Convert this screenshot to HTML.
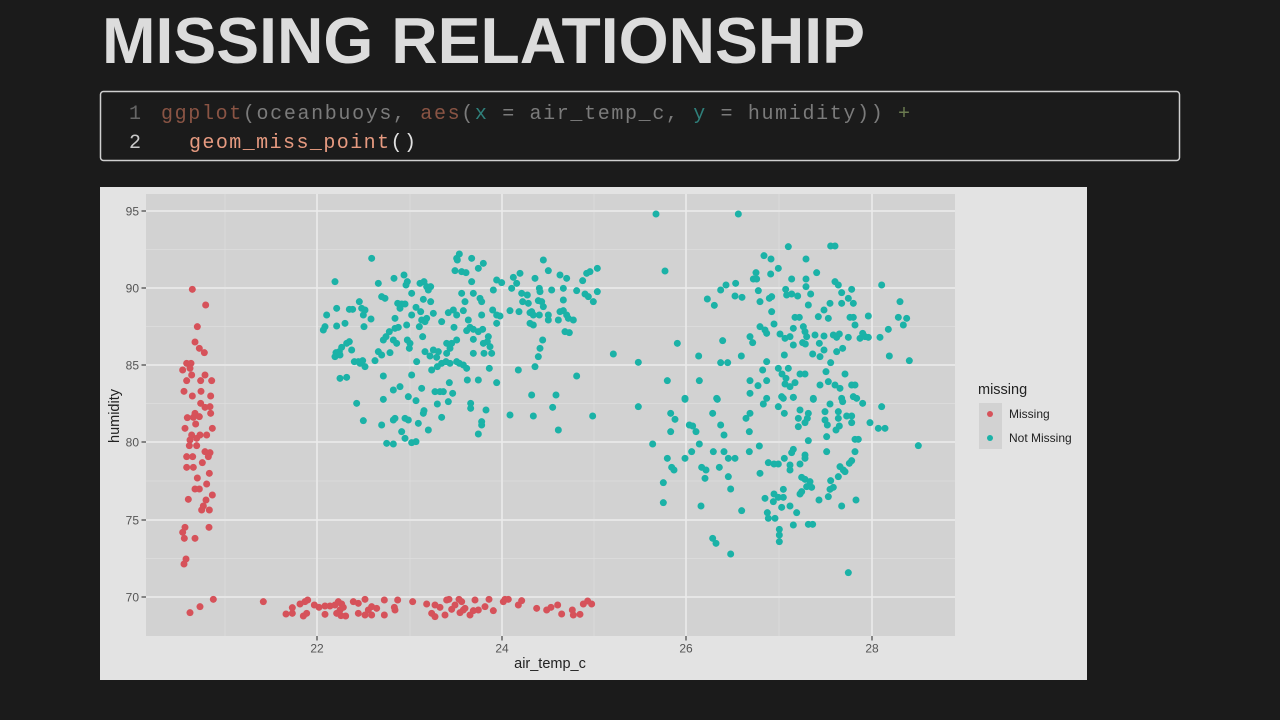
<!DOCTYPE html>
<html><head><meta charset="utf-8"><style>
html,body{margin:0;padding:0;background:#1b1b1b;}
svg{display:block;}
.t{font-family:"Liberation Sans",sans-serif;}
.m{font-family:"Liberation Mono",monospace;}
</style></head><body>
<svg width="1280" height="720" viewBox="0 0 1280 720" xmlns="http://www.w3.org/2000/svg">
<rect width="1280" height="720" fill="#1b1b1b"/>
<text class="t" x="102" y="63" font-size="65" font-weight="bold" fill="#dcdcdc" textLength="763" lengthAdjust="spacingAndGlyphs">MISSING RELATIONSHIP</text>
<rect x="100.5" y="91.5" width="1079" height="69" rx="3" fill="none" stroke="#cfcfcf" stroke-width="1.5"/>
<text class="m" x="129" y="119" font-size="20" fill="#666">1</text>
<text class="m" x="161" y="119" font-size="20" xml:space="preserve" textLength="749" lengthAdjust="spacing"><tspan fill="#8a5444">ggplot</tspan><tspan fill="#7b7b7b">(oceanbuoys, </tspan><tspan fill="#8a5444">aes</tspan><tspan fill="#7b7b7b">(</tspan><tspan fill="#2f7f7a">x</tspan><tspan fill="#7b7b7b"> = air_temp_c, </tspan><tspan fill="#2f7f7a">y</tspan><tspan fill="#7b7b7b"> = humidity)) </tspan><tspan fill="#6b7b50">+</tspan></text>
<text class="m" x="129" y="148" font-size="20" fill="#c8c8c8">2</text>
<text class="m" x="189" y="148" font-size="20" xml:space="preserve" textLength="227" lengthAdjust="spacing"><tspan fill="#e69a80">geom_miss_point</tspan><tspan fill="#e0e0e0">()</tspan></text>

<rect x="100" y="187" width="987" height="493" fill="#e3e3e3"/>
<rect x="146" y="194" width="809" height="442" fill="#d2d2d2"/>
<g stroke="#dedede" stroke-width="0.8">
<line x1="146" x2="955" y1="249.5" y2="249.5"/><line x1="146" x2="955" y1="326.5" y2="326.5"/><line x1="146" x2="955" y1="403.5" y2="403.5"/><line x1="146" x2="955" y1="481" y2="481"/><line x1="146" x2="955" y1="558.5" y2="558.5"/>
<line y1="194" y2="636" x1="225" x2="225"/><line y1="194" y2="636" x1="410" x2="410"/><line y1="194" y2="636" x1="594" x2="594"/><line y1="194" y2="636" x1="779" x2="779"/>
</g>
<g stroke="#ececec" stroke-width="1.5">
<line x1="146" x2="955" y1="211" y2="211"/><line x1="146" x2="955" y1="288" y2="288"/><line x1="146" x2="955" y1="365" y2="365"/><line x1="146" x2="955" y1="442" y2="442"/><line x1="146" x2="955" y1="520" y2="520"/><line x1="146" x2="955" y1="597" y2="597"/>
<line y1="194" y2="636" x1="317" x2="317"/><line y1="194" y2="636" x1="502" x2="502"/><line y1="194" y2="636" x1="686" x2="686"/><line y1="194" y2="636" x1="872" x2="872"/>
</g>
<g stroke="#444" stroke-width="1.2">
<line x1="141.5" x2="146" y1="211" y2="211"/><line x1="141.5" x2="146" y1="288" y2="288"/><line x1="141.5" x2="146" y1="365" y2="365"/><line x1="141.5" x2="146" y1="442" y2="442"/><line x1="141.5" x2="146" y1="520" y2="520"/><line x1="141.5" x2="146" y1="597" y2="597"/>
<line y1="636" y2="640.5" x1="317" x2="317"/><line y1="636" y2="640.5" x1="502" x2="502"/><line y1="636" y2="640.5" x1="686" x2="686"/><line y1="636" y2="640.5" x1="872" x2="872"/>
</g>
<g class="t" font-size="12" fill="#555" text-anchor="end">
<text x="139" y="215.3">95</text><text x="139" y="292.3">90</text><text x="139" y="369.3">85</text><text x="139" y="446.3">80</text><text x="139" y="524.3">75</text><text x="139" y="601.3">70</text>
</g>
<g class="t" font-size="12" fill="#555" text-anchor="middle">
<text x="317" y="652.5">22</text><text x="502" y="652.5">24</text><text x="686" y="652.5">26</text><text x="872" y="652.5">28</text>
</g>
<text class="t" x="550" y="668" font-size="14.5" fill="#222" text-anchor="middle">air_temp_c</text>
<text class="t" transform="translate(119,416) rotate(-90)" font-size="14.5" fill="#222" text-anchor="middle">humidity</text>

<text class="t" x="978" y="394" font-size="14.5" fill="#222">missing</text>
<rect x="979" y="403" width="23" height="46" fill="#d2d2d2"/>
<circle cx="990" cy="414" r="3" fill="#d6525a"/>
<circle cx="990" cy="438" r="3" fill="#1bb2a7"/>
<text class="t" x="1009" y="418.2" font-size="12" fill="#222">Missing</text>
<text class="t" x="1009" y="442.2" font-size="12" fill="#222">Not Missing</text>

<g fill="#d6525a" transform="translate(160,280) scale(0.33333)">
<circle cx="97" cy="28" r="10.5"/><circle cx="137" cy="75" r="10.5"/><circle cx="112" cy="140" r="10.5"/><circle cx="105" cy="186" r="10.5"/><circle cx="118" cy="205" r="10.5"/><circle cx="133" cy="218" r="10.5"/><circle cx="80" cy="250" r="10.5"/><circle cx="93" cy="250" r="10.5"/><circle cx="68" cy="270" r="10.5"/><circle cx="90" cy="265" r="10.5"/><circle cx="95" cy="285" r="10.5"/><circle cx="135" cy="285" r="10.5"/><circle cx="80" cy="302" r="10.5"/><circle cx="122" cy="302" r="10.5"/><circle cx="155" cy="302" r="10.5"/><circle cx="72" cy="334" r="10.5"/><circle cx="97" cy="348" r="10.5"/><circle cx="123" cy="334" r="10.5"/><circle cx="152" cy="348" r="10.5"/><circle cx="122" cy="370" r="10.5"/><circle cx="135" cy="382" r="10.5"/><circle cx="150" cy="380" r="10.5"/><circle cx="105" cy="400" r="10.5"/><circle cx="118" cy="410" r="10.5"/><circle cx="100" cy="412" r="10.5"/><circle cx="152" cy="400" r="10.5"/><circle cx="82" cy="413" r="10.5"/><circle cx="107" cy="432" r="10.5"/><circle cx="75" cy="445" r="10.5"/><circle cx="157" cy="445" r="10.5"/><circle cx="95" cy="465" r="10.5"/><circle cx="120" cy="465" r="10.5"/><circle cx="140" cy="465" r="10.5"/><circle cx="90" cy="480" r="10.5"/><circle cx="110" cy="475" r="10.5"/><circle cx="88" cy="497" r="10.5"/><circle cx="110" cy="497" r="10.5"/><circle cx="135" cy="515" r="10.5"/><circle cx="150" cy="518" r="10.5"/><circle cx="145" cy="530" r="10.5"/><circle cx="80" cy="530" r="10.5"/><circle cx="98" cy="530" r="10.5"/><circle cx="127" cy="548" r="10.5"/><circle cx="80" cy="562" r="10.5"/><circle cx="100" cy="562" r="10.5"/><circle cx="148" cy="580" r="10.5"/><circle cx="112" cy="594" r="10.5"/><circle cx="140" cy="612" r="10.5"/><circle cx="105" cy="627" r="10.5"/><circle cx="118" cy="627" r="10.5"/><circle cx="157" cy="645" r="10.5"/><circle cx="85" cy="658" r="10.5"/><circle cx="138" cy="660" r="10.5"/><circle cx="130" cy="678" r="10.5"/><circle cx="125" cy="690" r="10.5"/><circle cx="148" cy="690" r="10.5"/><circle cx="147" cy="742" r="10.5"/><circle cx="75" cy="742" r="10.5"/><circle cx="68" cy="757" r="10.5"/><circle cx="73" cy="775" r="10.5"/><circle cx="105" cy="775" r="10.5"/><circle cx="78" cy="837" r="10.5"/><circle cx="72" cy="852" r="10.5"/>
</g>
<g fill="#d6525a" transform="translate(95,500) scale(0.33333)">
<circle cx="285" cy="338" r="10.5"/><circle cx="315" cy="320" r="10.5"/><circle cx="355" cy="298" r="10.5"/><circle cx="505" cy="305" r="10.5"/><circle cx="573" cy="342" r="10.5"/><circle cx="592" cy="340" r="10.5"/><circle cx="592" cy="323" r="10.5"/><circle cx="615" cy="312" r="10.5"/><circle cx="630" cy="305" r="10.5"/><circle cx="638" cy="300" r="10.5"/><circle cx="625" cy="348" r="10.5"/><circle cx="635" cy="340" r="10.5"/><circle cx="658" cy="315" r="10.5"/><circle cx="672" cy="322" r="10.5"/><circle cx="690" cy="343" r="10.5"/><circle cx="690" cy="318" r="10.5"/><circle cx="705" cy="318" r="10.5"/><circle cx="720" cy="315" r="10.5"/><circle cx="730" cy="305" r="10.5"/><circle cx="740" cy="312" r="10.5"/><circle cx="745" cy="322" r="10.5"/><circle cx="735" cy="330" r="10.5"/><circle cx="725" cy="340" r="10.5"/><circle cx="738" cy="347" r="10.5"/><circle cx="752" cy="348" r="10.5"/><circle cx="775" cy="305" r="10.5"/><circle cx="790" cy="310" r="10.5"/><circle cx="810" cy="298" r="10.5"/><circle cx="790" cy="340" r="10.5"/><circle cx="810" cy="345" r="10.5"/><circle cx="820" cy="330" r="10.5"/><circle cx="830" cy="345" r="10.5"/><circle cx="845" cy="325" r="10.5"/><circle cx="830" cy="320" r="10.5"/><circle cx="868" cy="300" r="10.5"/><circle cx="868" cy="345" r="10.5"/><circle cx="898" cy="322" r="10.5"/><circle cx="900" cy="330" r="10.5"/><circle cx="908" cy="300" r="10.5"/><circle cx="953" cy="305" r="10.5"/><circle cx="995" cy="312" r="10.5"/><circle cx="1010" cy="340" r="10.5"/><circle cx="1020" cy="350" r="10.5"/><circle cx="1020" cy="315" r="10.5"/><circle cx="1035" cy="322" r="10.5"/><circle cx="1050" cy="345" r="10.5"/><circle cx="1055" cy="300" r="10.5"/><circle cx="1062" cy="298" r="10.5"/><circle cx="1070" cy="328" r="10.5"/><circle cx="1080" cy="315" r="10.5"/><circle cx="1092" cy="298" r="10.5"/><circle cx="1100" cy="305" r="10.5"/><circle cx="1095" cy="338" r="10.5"/><circle cx="1105" cy="330" r="10.5"/><circle cx="1110" cy="325" r="10.5"/><circle cx="1125" cy="345" r="10.5"/><circle cx="1135" cy="332" r="10.5"/><circle cx="1140" cy="300" r="10.5"/><circle cx="1150" cy="330" r="10.5"/><circle cx="1170" cy="320" r="10.5"/><circle cx="1182" cy="298" r="10.5"/><circle cx="1195" cy="332" r="10.5"/><circle cx="1225" cy="305" r="10.5"/><circle cx="1230" cy="298" r="10.5"/><circle cx="1240" cy="298" r="10.5"/><circle cx="1270" cy="315" r="10.5"/><circle cx="1280" cy="302" r="10.5"/><circle cx="1325" cy="325" r="10.5"/><circle cx="1355" cy="330" r="10.5"/><circle cx="1368" cy="322" r="10.5"/><circle cx="1388" cy="315" r="10.5"/><circle cx="1400" cy="342" r="10.5"/><circle cx="1432" cy="330" r="10.5"/><circle cx="1435" cy="345" r="10.5"/><circle cx="1455" cy="343" r="10.5"/><circle cx="1465" cy="312" r="10.5"/><circle cx="1478" cy="303" r="10.5"/><circle cx="1490" cy="312" r="10.5"/>
</g>

<g fill="#1bb2a7" transform="translate(300,240) scale(0.33333)">
<circle cx="215" cy="55" r="10.5"/><circle cx="105" cy="125" r="10.5"/><circle cx="235" cy="130" r="10.5"/><circle cx="282" cy="115" r="10.5"/><circle cx="312" cy="105" r="10.5"/><circle cx="322" cy="125" r="10.5"/><circle cx="318" cy="135" r="10.5"/><circle cx="360" cy="130" r="10.5"/><circle cx="372" cy="125" r="10.5"/><circle cx="380" cy="140" r="10.5"/><circle cx="392" cy="140" r="10.5"/><circle cx="385" cy="150" r="10.5"/><circle cx="335" cy="160" r="10.5"/><circle cx="245" cy="170" r="10.5"/><circle cx="255" cy="175" r="10.5"/><circle cx="178" cy="185" r="10.5"/><circle cx="110" cy="205" r="10.5"/><circle cx="148" cy="208" r="10.5"/><circle cx="158" cy="208" r="10.5"/><circle cx="185" cy="205" r="10.5"/><circle cx="195" cy="210" r="10.5"/><circle cx="190" cy="225" r="10.5"/><circle cx="213" cy="237" r="10.5"/><circle cx="80" cy="225" r="10.5"/><circle cx="75" cy="260" r="10.5"/><circle cx="70" cy="270" r="10.5"/><circle cx="110" cy="258" r="10.5"/><circle cx="135" cy="250" r="10.5"/><circle cx="192" cy="260" r="10.5"/><circle cx="293" cy="190" r="10.5"/><circle cx="305" cy="192" r="10.5"/><circle cx="315" cy="192" r="10.5"/><circle cx="300" cy="205" r="10.5"/><circle cx="335" cy="225" r="10.5"/><circle cx="348" cy="202" r="10.5"/><circle cx="362" cy="215" r="10.5"/><circle cx="370" cy="178" r="10.5"/><circle cx="392" cy="185" r="10.5"/><circle cx="365" cy="240" r="10.5"/><circle cx="375" cy="245" r="10.5"/><circle cx="358" cy="260" r="10.5"/><circle cx="380" cy="235" r="10.5"/><circle cx="400" cy="220" r="10.5"/><circle cx="425" cy="245" r="10.5"/><circle cx="445" cy="218" r="10.5"/><circle cx="460" cy="210" r="10.5"/><circle cx="470" cy="225" r="10.5"/><circle cx="462" cy="262" r="10.5"/><circle cx="490" cy="212" r="10.5"/><circle cx="495" cy="185" r="10.5"/><circle cx="485" cy="160" r="10.5"/><circle cx="520" cy="160" r="10.5"/><circle cx="540" cy="175" r="10.5"/><circle cx="545" cy="185" r="10.5"/><circle cx="545" cy="225" r="10.5"/><circle cx="578" cy="210" r="10.5"/><circle cx="590" cy="225" r="10.5"/><circle cx="590" cy="250" r="10.5"/><circle cx="600" cy="228" r="10.5"/><circle cx="505" cy="240" r="10.5"/><circle cx="510" cy="262" r="10.5"/><circle cx="520" cy="268" r="10.5"/><circle cx="535" cy="275" r="10.5"/><circle cx="548" cy="268" r="10.5"/><circle cx="565" cy="290" r="10.5"/><circle cx="562" cy="305" r="10.5"/><circle cx="570" cy="320" r="10.5"/><circle cx="575" cy="340" r="10.5"/><circle cx="550" cy="310" r="10.5"/><circle cx="552" cy="340" r="10.5"/><circle cx="520" cy="340" r="10.5"/><circle cx="520" cy="298" r="10.5"/><circle cx="500" cy="272" r="10.5"/><circle cx="258" cy="290" r="10.5"/><circle cx="268" cy="275" r="10.5"/><circle cx="285" cy="265" r="10.5"/><circle cx="285" cy="235" r="10.5"/><circle cx="295" cy="262" r="10.5"/><circle cx="320" cy="255" r="10.5"/><circle cx="250" cy="300" r="10.5"/><circle cx="280" cy="300" r="10.5"/><circle cx="290" cy="310" r="10.5"/><circle cx="322" cy="300" r="10.5"/><circle cx="330" cy="310" r="10.5"/><circle cx="328" cy="325" r="10.5"/><circle cx="368" cy="290" r="10.5"/><circle cx="108" cy="338" r="10.5"/><circle cx="118" cy="335" r="10.5"/><circle cx="125" cy="322" r="10.5"/><circle cx="140" cy="310" r="10.5"/><circle cx="148" cy="305" r="10.5"/><circle cx="105" cy="350" r="10.5"/><circle cx="120" cy="345" r="10.5"/><circle cx="155" cy="330" r="10.5"/><circle cx="163" cy="365" r="10.5"/><circle cx="175" cy="365" r="10.5"/><circle cx="180" cy="370" r="10.5"/><circle cx="188" cy="362" r="10.5"/><circle cx="195" cy="380" r="10.5"/><circle cx="225" cy="362" r="10.5"/><circle cx="235" cy="335" r="10.5"/><circle cx="245" cy="345" r="10.5"/><circle cx="270" cy="338" r="10.5"/><circle cx="375" cy="335" r="10.5"/><circle cx="390" cy="348" r="10.5"/><circle cx="400" cy="330" r="10.5"/><circle cx="415" cy="335" r="10.5"/><circle cx="410" cy="352" r="10.5"/><circle cx="412" cy="380" r="10.5"/><circle cx="425" cy="370" r="10.5"/><circle cx="395" cy="390" r="10.5"/><circle cx="440" cy="340" r="10.5"/><circle cx="440" cy="310" r="10.5"/><circle cx="450" cy="325" r="10.5"/><circle cx="455" cy="310" r="10.5"/><circle cx="470" cy="300" r="10.5"/><circle cx="438" cy="365" r="10.5"/><circle cx="450" cy="370" r="10.5"/><circle cx="470" cy="365" r="10.5"/><circle cx="478" cy="370" r="10.5"/><circle cx="490" cy="375" r="10.5"/><circle cx="500" cy="385" r="10.5"/><circle cx="120" cy="415" r="10.5"/><circle cx="140" cy="412" r="10.5"/><circle cx="250" cy="408" r="10.5"/><circle cx="335" cy="405" r="10.5"/><circle cx="350" cy="365" r="10.5"/><circle cx="405" cy="455" r="10.5"/><circle cx="420" cy="455" r="10.5"/><circle cx="430" cy="455" r="10.5"/><circle cx="458" cy="460" r="10.5"/><circle cx="448" cy="428" r="10.5"/><circle cx="365" cy="445" r="10.5"/><circle cx="280" cy="450" r="10.5"/><circle cx="300" cy="440" r="10.5"/><circle cx="170" cy="490" r="10.5"/><circle cx="250" cy="478" r="10.5"/><circle cx="325" cy="470" r="10.5"/><circle cx="348" cy="482" r="10.5"/><circle cx="412" cy="492" r="10.5"/><circle cx="445" cy="485" r="10.5"/><circle cx="370" cy="520" r="10.5"/><circle cx="372" cy="512" r="10.5"/><circle cx="425" cy="532" r="10.5"/><circle cx="512" cy="490" r="10.5"/><circle cx="512" cy="505" r="10.5"/><circle cx="535" cy="420" r="10.5"/><circle cx="502" cy="420" r="10.5"/><circle cx="590" cy="428" r="10.5"/><circle cx="568" cy="385" r="10.5"/><circle cx="545" cy="545" r="10.5"/><circle cx="545" cy="555" r="10.5"/><circle cx="535" cy="582" r="10.5"/><circle cx="558" cy="510" r="10.5"/><circle cx="190" cy="542" r="10.5"/><circle cx="245" cy="555" r="10.5"/><circle cx="280" cy="540" r="10.5"/><circle cx="285" cy="535" r="10.5"/><circle cx="315" cy="535" r="10.5"/><circle cx="325" cy="540" r="10.5"/><circle cx="305" cy="575" r="10.5"/><circle cx="315" cy="595" r="10.5"/><circle cx="355" cy="550" r="10.5"/><circle cx="385" cy="570" r="10.5"/><circle cx="260" cy="610" r="10.5"/><circle cx="280" cy="612" r="10.5"/><circle cx="335" cy="608" r="10.5"/><circle cx="348" cy="605" r="10.5"/><circle cx="630" cy="525" r="10.5"/><circle cx="700" cy="528" r="10.5"/><circle cx="775" cy="570" r="10.5"/><circle cx="758" cy="502" r="10.5"/><circle cx="768" cy="465" r="10.5"/><circle cx="695" cy="465" r="10.5"/><circle cx="655" cy="390" r="10.5"/><circle cx="705" cy="380" r="10.5"/><circle cx="715" cy="350" r="10.5"/><circle cx="720" cy="325" r="10.5"/><circle cx="728" cy="300" r="10.5"/><circle cx="830" cy="408" r="10.5"/><circle cx="878" cy="528" r="10.5"/><circle cx="940" cy="342" r="10.5"/><circle cx="470" cy="55" r="10.5"/><circle cx="478" cy="42" r="10.5"/><circle cx="472" cy="60" r="10.5"/><circle cx="515" cy="55" r="10.5"/><circle cx="550" cy="70" r="10.5"/><circle cx="535" cy="85" r="10.5"/><circle cx="465" cy="92" r="10.5"/><circle cx="485" cy="95" r="10.5"/><circle cx="498" cy="98" r="10.5"/><circle cx="515" cy="125" r="10.5"/><circle cx="580" cy="150" r="10.5"/><circle cx="590" cy="120" r="10.5"/><circle cx="605" cy="128" r="10.5"/><circle cx="640" cy="112" r="10.5"/><circle cx="660" cy="100" r="10.5"/><circle cx="650" cy="130" r="10.5"/><circle cx="635" cy="145" r="10.5"/><circle cx="630" cy="212" r="10.5"/><circle cx="657" cy="215" r="10.5"/><circle cx="668" cy="185" r="10.5"/><circle cx="682" cy="165" r="10.5"/><circle cx="685" cy="190" r="10.5"/><circle cx="695" cy="215" r="10.5"/><circle cx="690" cy="218" r="10.5"/><circle cx="718" cy="145" r="10.5"/><circle cx="720" cy="155" r="10.5"/><circle cx="715" cy="182" r="10.5"/><circle cx="725" cy="185" r="10.5"/><circle cx="730" cy="200" r="10.5"/><circle cx="745" cy="240" r="10.5"/><circle cx="775" cy="240" r="10.5"/><circle cx="780" cy="215" r="10.5"/><circle cx="790" cy="212" r="10.5"/><circle cx="800" cy="225" r="10.5"/><circle cx="805" cy="235" r="10.5"/><circle cx="820" cy="240" r="10.5"/><circle cx="795" cy="275" r="10.5"/><circle cx="808" cy="278" r="10.5"/><circle cx="790" cy="180" r="10.5"/><circle cx="790" cy="145" r="10.5"/><circle cx="780" cy="105" r="10.5"/><circle cx="800" cy="115" r="10.5"/><circle cx="830" cy="152" r="10.5"/><circle cx="855" cy="162" r="10.5"/><circle cx="865" cy="170" r="10.5"/><circle cx="880" cy="185" r="10.5"/><circle cx="892" cy="155" r="10.5"/><circle cx="848" cy="122" r="10.5"/><circle cx="860" cy="100" r="10.5"/><circle cx="870" cy="95" r="10.5"/><circle cx="892" cy="85" r="10.5"/><circle cx="745" cy="92" r="10.5"/><circle cx="730" cy="60" r="10.5"/><circle cx="755" cy="150" r="10.5"/><circle cx="700" cy="255" r="10.5"/><circle cx="665" cy="160" r="10.5"/><circle cx="705" cy="115" r="10.5"/><circle cx="690" cy="250" r="10.5"/><circle cx="718" cy="225" r="10.5"/><circle cx="700" cy="225" r="10.5"/><circle cx="745" cy="225" r="10.5"/>
</g>

<g fill="#1bb2a7" transform="translate(620,200) scale(0.33333)">
<circle cx="108" cy="42" r="10.5"/><circle cx="355" cy="42" r="10.5"/><circle cx="135" cy="213" r="10.5"/><circle cx="505" cy="140" r="10.5"/><circle cx="632" cy="138" r="10.5"/><circle cx="645" cy="138" r="10.5"/><circle cx="432" cy="167" r="10.5"/><circle cx="453" cy="177" r="10.5"/><circle cx="475" cy="205" r="10.5"/><circle cx="558" cy="177" r="10.5"/><circle cx="408" cy="218" r="10.5"/><circle cx="400" cy="237" r="10.5"/><circle cx="410" cy="237" r="10.5"/><circle cx="452" cy="222" r="10.5"/><circle cx="515" cy="237" r="10.5"/><circle cx="558" cy="237" r="10.5"/><circle cx="590" cy="218" r="10.5"/><circle cx="347" cy="250" r="10.5"/><circle cx="318" cy="255" r="10.5"/><circle cx="302" cy="270" r="10.5"/><circle cx="262" cy="297" r="10.5"/><circle cx="283" cy="316" r="10.5"/><circle cx="345" cy="288" r="10.5"/><circle cx="366" cy="292" r="10.5"/><circle cx="415" cy="272" r="10.5"/><circle cx="448" cy="295" r="10.5"/><circle cx="455" cy="290" r="10.5"/><circle cx="420" cy="305" r="10.5"/><circle cx="497" cy="268" r="10.5"/><circle cx="500" cy="285" r="10.5"/><circle cx="515" cy="282" r="10.5"/><circle cx="533" cy="288" r="10.5"/><circle cx="558" cy="260" r="10.5"/><circle cx="572" cy="282" r="10.5"/><circle cx="645" cy="245" r="10.5"/><circle cx="655" cy="255" r="10.5"/><circle cx="665" cy="278" r="10.5"/><circle cx="695" cy="268" r="10.5"/><circle cx="785" cy="255" r="10.5"/><circle cx="565" cy="315" r="10.5"/><circle cx="630" cy="310" r="10.5"/><circle cx="665" cy="310" r="10.5"/><circle cx="685" cy="295" r="10.5"/><circle cx="700" cy="310" r="10.5"/><circle cx="455" cy="335" r="10.5"/><circle cx="462" cy="372" r="10.5"/><circle cx="420" cy="380" r="10.5"/><circle cx="435" cy="390" r="10.5"/><circle cx="440" cy="400" r="10.5"/><circle cx="525" cy="352" r="10.5"/><circle cx="538" cy="352" r="10.5"/><circle cx="520" cy="385" r="10.5"/><circle cx="550" cy="380" r="10.5"/><circle cx="555" cy="395" r="10.5"/><circle cx="560" cy="410" r="10.5"/><circle cx="595" cy="350" r="10.5"/><circle cx="612" cy="330" r="10.5"/><circle cx="625" cy="355" r="10.5"/><circle cx="585" cy="405" r="10.5"/><circle cx="612" cy="408" r="10.5"/><circle cx="640" cy="405" r="10.5"/><circle cx="650" cy="412" r="10.5"/><circle cx="658" cy="402" r="10.5"/><circle cx="690" cy="352" r="10.5"/><circle cx="700" cy="352" r="10.5"/><circle cx="705" cy="375" r="10.5"/><circle cx="745" cy="348" r="10.5"/><circle cx="835" cy="352" r="10.5"/><circle cx="860" cy="355" r="10.5"/><circle cx="850" cy="375" r="10.5"/><circle cx="840" cy="305" r="10.5"/><circle cx="805" cy="388" r="10.5"/><circle cx="780" cy="412" r="10.5"/><circle cx="720" cy="415" r="10.5"/><circle cx="735" cy="410" r="10.5"/><circle cx="745" cy="412" r="10.5"/><circle cx="728" cy="400" r="10.5"/><circle cx="685" cy="412" r="10.5"/><circle cx="390" cy="410" r="10.5"/><circle cx="398" cy="428" r="10.5"/><circle cx="308" cy="422" r="10.5"/><circle cx="172" cy="430" r="10.5"/><circle cx="236" cy="468" r="10.5"/><circle cx="364" cy="468" r="10.5"/><circle cx="302" cy="488" r="10.5"/><circle cx="323" cy="488" r="10.5"/><circle cx="493" cy="465" r="10.5"/><circle cx="480" cy="402" r="10.5"/><circle cx="495" cy="415" r="10.5"/><circle cx="510" cy="410" r="10.5"/><circle cx="520" cy="435" r="10.5"/><circle cx="548" cy="428" r="10.5"/><circle cx="556" cy="432" r="10.5"/><circle cx="598" cy="430" r="10.5"/><circle cx="612" cy="450" r="10.5"/><circle cx="578" cy="462" r="10.5"/><circle cx="600" cy="470" r="10.5"/><circle cx="632" cy="488" r="10.5"/><circle cx="650" cy="455" r="10.5"/><circle cx="668" cy="445" r="10.5"/><circle cx="55" cy="487" r="10.5"/><circle cx="808" cy="468" r="10.5"/><circle cx="868" cy="482" r="10.5"/><circle cx="142" cy="542" r="10.5"/><circle cx="238" cy="542" r="10.5"/><circle cx="440" cy="485" r="10.5"/><circle cx="428" cy="510" r="10.5"/><circle cx="390" cy="542" r="10.5"/><circle cx="414" cy="557" r="10.5"/><circle cx="440" cy="542" r="10.5"/><circle cx="475" cy="505" r="10.5"/><circle cx="486" cy="522" r="10.5"/><circle cx="505" cy="505" r="10.5"/><circle cx="498" cy="535" r="10.5"/><circle cx="495" cy="552" r="10.5"/><circle cx="510" cy="560" r="10.5"/><circle cx="525" cy="548" r="10.5"/><circle cx="540" cy="522" r="10.5"/><circle cx="555" cy="522" r="10.5"/><circle cx="600" cy="555" r="10.5"/><circle cx="618" cy="515" r="10.5"/><circle cx="625" cy="545" r="10.5"/><circle cx="645" cy="555" r="10.5"/><circle cx="660" cy="565" r="10.5"/><circle cx="675" cy="522" r="10.5"/><circle cx="695" cy="555" r="10.5"/><circle cx="705" cy="555" r="10.5"/><circle cx="390" cy="580" r="10.5"/><circle cx="195" cy="595" r="10.5"/><circle cx="290" cy="595" r="10.5"/><circle cx="440" cy="595" r="10.5"/><circle cx="485" cy="590" r="10.5"/><circle cx="520" cy="592" r="10.5"/><circle cx="580" cy="595" r="10.5"/><circle cx="665" cy="595" r="10.5"/><circle cx="700" cy="590" r="10.5"/>
</g>

<g fill="#1bb2a7" transform="translate(620,390) scale(0.33333)">
<circle cx="55" cy="50" r="10.5"/><circle cx="195" cy="28" r="10.5"/><circle cx="292" cy="28" r="10.5"/><circle cx="430" cy="42" r="10.5"/><circle cx="475" cy="50" r="10.5"/><circle cx="490" cy="25" r="10.5"/><circle cx="520" cy="22" r="10.5"/><circle cx="580" cy="28" r="10.5"/><circle cx="668" cy="35" r="10.5"/><circle cx="710" cy="25" r="10.5"/><circle cx="728" cy="40" r="10.5"/><circle cx="493" cy="70" r="10.5"/><circle cx="540" cy="60" r="10.5"/><circle cx="535" cy="85" r="10.5"/><circle cx="565" cy="70" r="10.5"/><circle cx="562" cy="85" r="10.5"/><circle cx="535" cy="110" r="10.5"/><circle cx="555" cy="98" r="10.5"/><circle cx="615" cy="65" r="10.5"/><circle cx="630" cy="42" r="10.5"/><circle cx="615" cy="90" r="10.5"/><circle cx="622" cy="105" r="10.5"/><circle cx="620" cy="140" r="10.5"/><circle cx="648" cy="120" r="10.5"/><circle cx="658" cy="108" r="10.5"/><circle cx="655" cy="65" r="10.5"/><circle cx="655" cy="85" r="10.5"/><circle cx="680" cy="78" r="10.5"/><circle cx="695" cy="78" r="10.5"/><circle cx="695" cy="98" r="10.5"/><circle cx="785" cy="50" r="10.5"/><circle cx="750" cy="98" r="10.5"/><circle cx="775" cy="115" r="10.5"/><circle cx="795" cy="115" r="10.5"/><circle cx="152" cy="70" r="10.5"/><circle cx="165" cy="88" r="10.5"/><circle cx="278" cy="70" r="10.5"/><circle cx="208" cy="105" r="10.5"/><circle cx="218" cy="108" r="10.5"/><circle cx="228" cy="125" r="10.5"/><circle cx="152" cy="125" r="10.5"/><circle cx="302" cy="105" r="10.5"/><circle cx="312" cy="135" r="10.5"/><circle cx="378" cy="85" r="10.5"/><circle cx="390" cy="70" r="10.5"/><circle cx="388" cy="125" r="10.5"/><circle cx="98" cy="162" r="10.5"/><circle cx="238" cy="162" r="10.5"/><circle cx="215" cy="185" r="10.5"/><circle cx="280" cy="185" r="10.5"/><circle cx="312" cy="185" r="10.5"/><circle cx="325" cy="205" r="10.5"/><circle cx="345" cy="205" r="10.5"/><circle cx="142" cy="205" r="10.5"/><circle cx="195" cy="205" r="10.5"/><circle cx="388" cy="185" r="10.5"/><circle cx="418" cy="168" r="10.5"/><circle cx="565" cy="152" r="10.5"/><circle cx="620" cy="185" r="10.5"/><circle cx="705" cy="148" r="10.5"/><circle cx="715" cy="148" r="10.5"/><circle cx="705" cy="185" r="10.5"/><circle cx="895" cy="167" r="10.5"/><circle cx="520" cy="178" r="10.5"/><circle cx="515" cy="188" r="10.5"/><circle cx="555" cy="195" r="10.5"/><circle cx="555" cy="205" r="10.5"/><circle cx="540" cy="222" r="10.5"/><circle cx="493" cy="205" r="10.5"/><circle cx="510" cy="225" r="10.5"/><circle cx="510" cy="240" r="10.5"/><circle cx="445" cy="218" r="10.5"/><circle cx="462" cy="222" r="10.5"/><circle cx="475" cy="222" r="10.5"/><circle cx="420" cy="250" r="10.5"/><circle cx="155" cy="232" r="10.5"/><circle cx="162" cy="240" r="10.5"/><circle cx="245" cy="232" r="10.5"/><circle cx="258" cy="240" r="10.5"/><circle cx="298" cy="232" r="10.5"/><circle cx="255" cy="265" r="10.5"/><circle cx="325" cy="260" r="10.5"/><circle cx="130" cy="278" r="10.5"/><circle cx="332" cy="297" r="10.5"/><circle cx="545" cy="262" r="10.5"/><circle cx="555" cy="268" r="10.5"/><circle cx="570" cy="275" r="10.5"/><circle cx="560" cy="290" r="10.5"/><circle cx="575" cy="292" r="10.5"/><circle cx="545" cy="305" r="10.5"/><circle cx="540" cy="312" r="10.5"/><circle cx="632" cy="272" r="10.5"/><circle cx="655" cy="260" r="10.5"/><circle cx="660" cy="230" r="10.5"/><circle cx="670" cy="240" r="10.5"/><circle cx="688" cy="220" r="10.5"/><circle cx="695" cy="212" r="10.5"/><circle cx="675" cy="245" r="10.5"/><circle cx="640" cy="292" r="10.5"/><circle cx="630" cy="298" r="10.5"/><circle cx="625" cy="320" r="10.5"/><circle cx="490" cy="298" r="10.5"/><circle cx="462" cy="312" r="10.5"/><circle cx="475" cy="322" r="10.5"/><circle cx="490" cy="322" r="10.5"/><circle cx="435" cy="325" r="10.5"/><circle cx="460" cy="335" r="10.5"/><circle cx="485" cy="352" r="10.5"/><circle cx="510" cy="348" r="10.5"/><circle cx="530" cy="368" r="10.5"/><circle cx="442" cy="368" r="10.5"/><circle cx="445" cy="385" r="10.5"/><circle cx="465" cy="385" r="10.5"/><circle cx="520" cy="405" r="10.5"/><circle cx="565" cy="403" r="10.5"/><circle cx="578" cy="403" r="10.5"/><circle cx="597" cy="330" r="10.5"/><circle cx="665" cy="348" r="10.5"/><circle cx="708" cy="330" r="10.5"/><circle cx="130" cy="338" r="10.5"/><circle cx="243" cy="348" r="10.5"/><circle cx="365" cy="362" r="10.5"/><circle cx="478" cy="418" r="10.5"/><circle cx="478" cy="435" r="10.5"/><circle cx="478" cy="455" r="10.5"/><circle cx="278" cy="445" r="10.5"/><circle cx="288" cy="460" r="10.5"/><circle cx="332" cy="492" r="10.5"/><circle cx="685" cy="548" r="10.5"/>
</g>
</svg>
</body></html>
